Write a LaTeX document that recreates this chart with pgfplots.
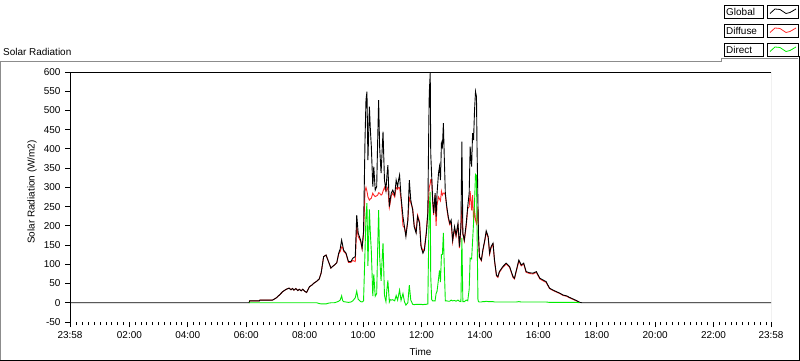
\documentclass[border=0pt]{standalone}
\usepackage{fontspec}
\setmainfont{Liberation Sans}
\usepackage{pgfplots}
\pgfplotsset{compat=1.18}
\usepackage{pgfplotstable}
\definecolor{lvred}{RGB}{255,40,40}
\definecolor{lvgreen}{RGB}{0,235,0}
\definecolor{lvgray}{RGB}{140,140,140}

\pgfplotstableread{
t G D B
-2 0 nan nan
366 0 0 0
367 5 5 0
387 5 5 0
388 7 7 0
414 7 7 0
421 12 12 0
428 20 20 0
435 29 29 0
442 35 35 0
448 38 38 0
452 34 34 0
455 37 37 0
458 33 33 0
462 37 37 0
466 32 32 0
469 35 35 0
473 31 31 0
476 35 35 0
480 30 30 0
484 27 27 0
490 42 42 0
495 46 46 0
500 52 52 0
505 56 56 0
510 62 62 -2
514 78 78 -3
519 120 120 -3
524 124 124 -3
529 107 107 -1
534 90 90 0
538 95 95 0
541 98 98 0
546 104 104 2
550 129 127 4
553 140 133 7
556 163 145 18
558 150 144 6
560 137 134 3
565 129 127 2
570 107 105 1
575 107 105 2
579 116 110 5
584 120 107 13
587 228 198 30
590 181 172 9
595 163 160 3
598 142 140 2
601 185 180 5
604 423 290 133
606 527 300 227
608 549 290 259
610 371 275 96
613 510 267 243
615 450 270 180
617 406 272 134
620 302 285 17
622 354 280 74
625 293 276 17
628 302 278 24
630 420 280 140
632 527 286 241
634 406 285 121
637 337 280 57
639 390 282 108
641 445 290 155
644 319 300 19
647 293 290 3
649 330 295 35
651 358 300 58
654 250 248 2
656 270 262 8
658 285 278 7
661 293 285 8
665 280 275 5
668 319 300 19
671 302 295 7
673 320 300 20
675 332 299 33
678 276 270 6
682 224 200 24
685 198 195 3
688 172 178 -6
692 215 215 0
695 319 273 46
698 267 260 7
702 241 245 -4
705 198 203 -5
709 181 185 -4
712 224 228 -4
716 207 211 -4
719 146 150 -4
723 129 134 -5
726 137 141 -4
730 181 185 -4
733 233 236 -3
735 458 280 178
736 545 300 245
738 598 310 288
739 389 320 69
741 328 320 8
743 267 262 5
745 233 228 5
748 285 280 5
750 224 200 24
752 285 255 30
755 337 275 62
757 354 270 84
759 319 265 54
761 415 290 125
763 406 280 126
765 467 285 182
767 371 285 86
769 285 280 5
772 250 245 5
775 224 220 4
778 207 203 4
781 215 208 7
784 163 158 5
788 198 192 6
791 176 172 4
795 207 200 7
798 146 142 4
801 198 195 3
803 419 250 169
805 181 178 3
808 163 160 3
812 207 200 7
815 250 245 5
818 285 250 35
820 406 290 116
823 354 240 114
825 441 280 161
827 423 215 208
829 501 240 261
831 549 215 334
833 536 205 331
834 415 210 205
836 259 250 9
837 181 178 3
839 120 118 2
843 111 109 2
846 137 134 3
850 163 160 3
853 187 183 4
857 172 169 3
860 129 126 3
863 146 143 3
867 155 152 3
870 111 109 2
874 72 70 2
877 68 66 2
880 81 79 2
887 94 92 2
894 103 101 2
901 94 92 2
908 68 66 2
911 64 62 2
915 85 83 2
920 111 108 3
925 98 96 2
930 103 101 2
935 81 79 2
942 78 76 2
949 77 75 2
956 81 79 2
963 64 62 2
970 59 57 2
976 55 53 2
983 38 37 1
990 33 32 1
997 29 28 1
1004 25 24 1
1011 20 19 1
1018 18 17 1
1024 14 13 1
1031 10 9 1
1038 6 5 1
1045 1 1 0
1050 0 nan nan
1438 0 nan nan
}\solar

\begin{document}
\fontsize{10}{12}\selectfont
\begin{tikzpicture}
\path[use as bounding box] (0bp,0bp) rectangle (800bp,361bp);
% outer panel frame
\draw[lvgray, line width=1bp] (0.5bp,0bp) -- (0.5bp,299.5bp) -- (721.5bp,299.5bp) -- (721.5bp,302bp) -- (798bp,302bp);
\draw[black, line width=1bp] (0bp,0.5bp) -- (799.5bp,0.5bp) -- (799.5bp,305bp);
% title
\node[anchor=base west, inner sep=0pt] at (3bp,305bp) {Solar Radiation};
% legend
\foreach \name/\col/\yb in {Global/black/342.5, Diffuse/lvred/323.5, Direct/lvgreen/304.5}{
  \draw[black, line width=1bp, fill=white] (724.5bp,\yb bp) rectangle (763.5bp,\yb bp+13bp);
  \node[anchor=base west, inner sep=0pt] at (726bp,\yb bp+2.5bp) {\name};
  \draw[black, line width=1bp, fill=white] (767.5bp,\yb bp) rectangle (798.5bp,\yb bp+13bp);
  \draw[\col, line width=0.8bp] (770bp,\yb bp+5bp) -- (775bp,\yb bp+9.5bp) -- (780bp,\yb bp+9bp) -- (786bp,\yb bp+5bp) -- (790bp,\yb bp+6bp) -- (796bp,\yb bp+9.5bp);
}
\begin{axis}[
  at={(70bp,39bp)}, anchor=south west,
  width=701bp, height=250bp, scale only axis,
  xmin=-2, xmax=1438, ymin=-50, ymax=600,
  axis line style={draw=none},
  tick align=outside,
  xtick pos=bottom, ytick pos=left,
  xtick={-2,120,240,360,480,600,720,840,960,1080,1200,1320,1438},
  xticklabels={23:58,02:00,04:00,06:00,08:00,10:00,12:00,14:00,16:00,18:00,20:00,22:00,23:58},
  minor xtick={12,24,...,1428},
  ytick={-50,0,50,100,150,200,250,300,350,400,450,500,550,600},
  yticklabels={-50,0,50,100,150,200,250,300,350,400,450,500,550,600},
  major tick length=5bp, minor tick length=3bp,
  every tick/.style={black, line width=1bp},
  tick label style={font=\fontsize{10}{12}\selectfont},
  xticklabel style={yshift=-1bp},
  yticklabel style={xshift=-1bp},
  xlabel={Time}, ylabel={Solar Radiation (W/m2)},
  x label style={at={(axis description cs:0.5,-0.12)}, anchor=center, font=\fontsize{10}{12}\selectfont},
  y label style={at={(axis description cs:-0.054,0.52)}, anchor=center, font=\fontsize{10}{12}\selectfont},
  unbounded coords=jump,
  clip=true,
]
\addplot[lvred, line width=0.9bp] table[x=t, y=D] {\solar};
\addplot[black, line width=0.9bp] table[x=t, y=G] {\solar};
\addplot[lvgreen, line width=0.9bp] table[x=t, y=B] {\solar};
\draw[black, line width=1.2bp] (rel axis cs:0,0) -- (rel axis cs:0,1) -- (rel axis cs:1,1);
\draw[lvgray, line width=1bp] (rel axis cs:0,0) -- (rel axis cs:1,0) -- (rel axis cs:1,1);
\end{axis}
\end{tikzpicture}
\end{document}
